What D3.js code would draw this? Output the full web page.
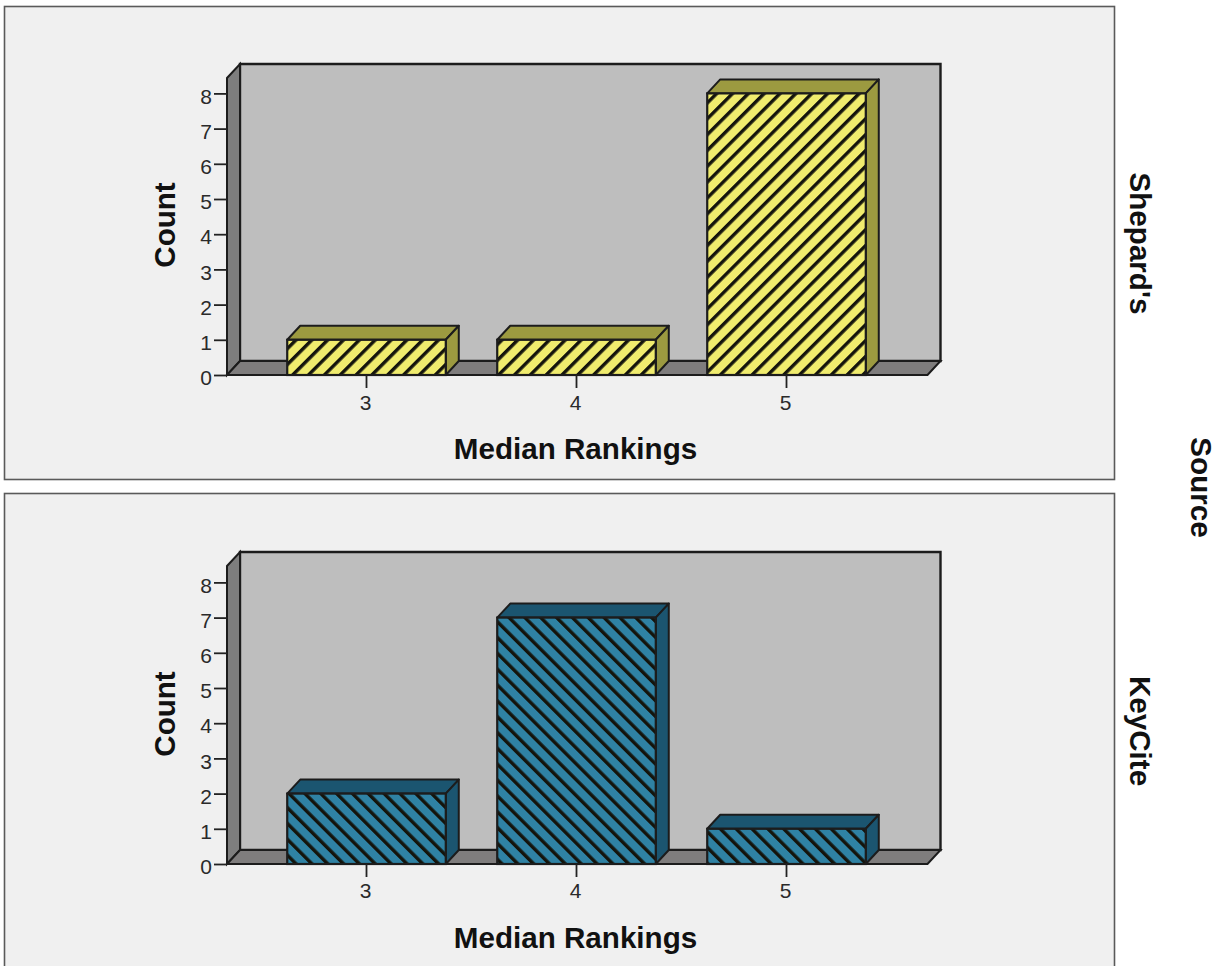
<!DOCTYPE html>
<html>
<head>
<meta charset="utf-8">
<script src="https://cdn.jsdelivr.net/npm/d3@7/dist/d3.min.js"></script>
<style>
html, body { margin: 0; padding: 0; background: #fff; overflow: hidden; }
text { font-family: "Liberation Sans", Arial, sans-serif; }
</style>
</head>
<body>
<svg id="chart" width="1225" height="966"></svg>
<script>
// Data: count of median rankings for each citation source
const rankings = [3, 4, 5];
const yTicks = [0, 1, 2, 3, 4, 5, 6, 7, 8];
const shepardsCounts = [1, 1, 8];
const keyCiteCounts = [2, 7, 1];
const panelNames = ["Shepard's", "KeyCite"];
const xTitle = "Median Rankings";
const yTitle = "Count";
const facetTitle = "Source";

const svg = d3.select("#chart");
const defs = svg.append("defs");

// Hatch fills for the bar fronts
function hatch(id, base, angle) {
  const p = defs.append("pattern")
    .attr("id", id)
    .attr("patternUnits", "userSpaceOnUse")
    .attr("width", 11.2).attr("height", 11.2)
    .attr("patternTransform", `rotate(${angle})`);
  p.append("rect").attr("width", 11.2).attr("height", 11.2).attr("fill", base);
  p.append("rect").attr("width", 3.4).attr("height", 11.2).attr("fill", "#14140c");
}
hatch("hatch-yellow", "#f0ec6e", 45);
hatch("hatch-blue", "#2f82a4", -45);

const depthX = 13, depthY = 14;
const stroke = "#1c1c1c";
const titleSize = 29.6;
const tickSize = 21;

function drawPanel(cfg) {
  const g = svg.append("g");

  g.append("rect")
    .attr("x", 4.5).attr("y", cfg.panelTop + 0.5)
    .attr("width", 1110).attr("height", cfg.panelHeight)
    .attr("fill", "#f0f0f0").attr("stroke", "#5a5a5a").attr("stroke-width", 1.6);

  const y = d3.scaleLinear().domain([0, 8]).range([cfg.floor, cfg.floor - cfg.unit * 8]);
  const x = d3.scaleBand().domain(rankings)
    .range([cfg.bandLeft, cfg.bandLeft + 630])
    .paddingInner(0.245).paddingOuter(0.1225);

  const left = 227, right = 927.5;
  const top = cfg.floor - cfg.frameHeight;
  const base = cfg.floor;

  // Back wall, side wall and floor of the 3D frame
  const line = d3.line();
  g.append("path")
    .attr("d", line([[left + depthX, top - depthY], [right + depthX, top - depthY], [right + depthX, base - depthY], [left + depthX, base - depthY]]) + "Z")
    .attr("fill", "#bebebe").attr("stroke", stroke).attr("stroke-width", 2.4);
  g.append("path")
    .attr("d", line([[left, top], [left + depthX, top - depthY], [left + depthX, base - depthY], [left, base]]) + "Z")
    .attr("fill", "#7e7e7e").attr("stroke", stroke).attr("stroke-width", 2);
  g.append("path")
    .attr("d", line([[left, base], [left + depthX, base - depthY], [right + depthX, base - depthY], [right, base]]) + "Z")
    .attr("fill", "#7f7d7d").attr("stroke", stroke).attr("stroke-width", 2);

  // Bars: top face, side face, then the hatched front
  const bars = g.selectAll("g.bar")
    .data(rankings.map((r, i) => ({ r, v: cfg.values[i] })))
    .join("g").attr("class", "bar");
  bars.append("path")
    .attr("d", d => {
      const x0 = x(d.r), x1 = x0 + x.bandwidth(), yt = y(d.v);
      return line([[x0, yt], [x0 + depthX, yt - depthY], [x1 + depthX, yt - depthY], [x1, yt]]) + "Z";
    })
    .attr("fill", cfg.shade).attr("stroke", stroke).attr("stroke-width", 2).attr("stroke-linejoin", "round");
  bars.append("path")
    .attr("d", d => {
      const x1 = x(d.r) + x.bandwidth(), yt = y(d.v);
      return line([[x1, yt], [x1 + depthX, yt - depthY], [x1 + depthX, y(0) - depthY], [x1, y(0)]]) + "Z";
    })
    .attr("fill", cfg.shade).attr("stroke", stroke).attr("stroke-width", 2).attr("stroke-linejoin", "round");
  bars.append("rect")
    .attr("x", d => x(d.r))
    .attr("y", d => y(d.v))
    .attr("width", x.bandwidth())
    .attr("height", d => y(0) - y(d.v))
    .attr("fill", `url(#${cfg.pattern})`)
    .attr("stroke", stroke).attr("stroke-width", 2.2);

  // Axes
  const yAxis = g.append("g").attr("transform", `translate(${left},0)`)
    .call(d3.axisLeft(y).tickValues(yTicks).tickSize(13).tickPadding(2).tickSizeOuter(0));
  yAxis.select(".domain").remove();
  yAxis.selectAll("line").attr("stroke", "#222").attr("stroke-width", 1.8);
  yAxis.selectAll("text").attr("font-size", tickSize).attr("fill", "#2a2a2a").attr("y", 3);

  const xAxis = g.append("g").attr("transform", `translate(0,${base})`)
    .call(d3.axisBottom(x).tickSize(13).tickPadding(cfg.xPad).tickSizeOuter(0));
  xAxis.select(".domain").remove();
  xAxis.selectAll("line").attr("stroke", "#222").attr("stroke-width", 1.8);
  xAxis.selectAll("text").attr("font-size", tickSize).attr("fill", "#2a2a2a").attr("dx", -1);

  // Titles
  g.append("text")
    .attr("x", 575.5).attr("y", base + 84)
    .attr("text-anchor", "middle").attr("font-weight", "bold").attr("font-size", titleSize)
    .attr("fill", "#111").text(xTitle);
  g.append("text")
    .attr("transform", `translate(175,${cfg.floor - 150}) rotate(-90)`)
    .attr("text-anchor", "middle").attr("font-weight", "bold").attr("font-size", titleSize)
    .attr("fill", "#111").text(yTitle);
  g.append("text")
    .attr("transform", `translate(1130,${cfg.nameY}) rotate(90)`)
    .attr("text-anchor", "middle").attr("font-weight", "bold").attr("font-size", titleSize)
    .attr("fill", "#111").text(cfg.name);
}

drawPanel({
  name: panelNames[0], nameY: 243.5, values: shepardsCounts,
  panelTop: 6, panelHeight: 473, floor: 375, unit: 35.2, frameHeight: 297, bandLeft: 261.5, xPad: 7,
  pattern: "hatch-yellow", shade: "#9c9a40"
});
drawPanel({
  name: panelNames[1], nameY: 731, values: keyCiteCounts,
  panelTop: 493, panelHeight: 500, floor: 864, unit: 35.2, frameHeight: 298, bandLeft: 261.5, xPad: 6,
  pattern: "hatch-blue", shade: "#1b5570"
});

svg.append("text")
  .attr("transform", "translate(1191,487.5) rotate(90)")
  .attr("text-anchor", "middle").attr("font-weight", "bold").attr("font-size", titleSize)
  .attr("fill", "#111").text(facetTitle);
</script>
</body>
</html>
